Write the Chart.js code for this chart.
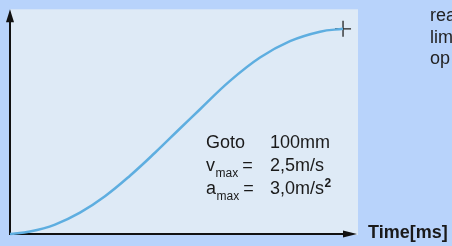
<!DOCTYPE html>
<html>
<head>
<meta charset="utf-8">
<script src="https://cdn.jsdelivr.net/npm/chart.js@4.4.1/dist/chart.umd.min.js"></script>
<style>
  html, body { margin: 0; padding: 0; background: #b8d3fb; }
  #wrap { width: 452px; height: 246px; position: relative; }
</style>
</head>
<body>
<div id="wrap"><canvas id="c" width="452" height="246"></canvas></div>
<script>
// Position curve: time [ms] vs position [mm]
const timeMs     = [0, 21.9, 49.3, 76.7, 104.1, 131.5, 158.9, 186.3, 208.3, 241.1, 274.0, 306.9, 339.8, 365];
const positionMm = [0, 1.2, 4.6, 10.4, 18.4, 28.4, 39.6, 51.4, 60.8, 74.6, 86.0, 94.0, 98.6, 100];
const xAxisTitle = 'Time[ms]';
const infoLines = [
  { label: 'Goto', sub: '', eq: '', value: '100mm', sup: '' },
  { label: 'v', sub: 'max', eq: '=', value: '2,5m/s', sup: '' },
  { label: 'a', sub: 'max', eq: '=', value: '3,0m/s', sup: '2' }
];
const sideText = ['rea', 'lim', 'op'];

const FONT = '"Liberation Sans", Arial, sans-serif';

const curve = timeMs.map((t, i) => ({ x: t, y: positionMm[i] }));
const endPoint = [{ x: timeMs[timeMs.length - 1], y: positionMm[positionMm.length - 1] }];

const decor = {
  id: 'decor',
  beforeDraw(chart) {
    const { ctx, chartArea: a } = chart;
    ctx.save();
    ctx.fillStyle = '#deeaf6';
    ctx.fillRect(a.left, a.top, a.right - a.left, a.bottom - a.top + 1);
    ctx.restore();
  },
  beforeDatasetsDraw(chart) {
    const { ctx, chartArea: a, scales } = chart;
    const x0 = scales.x.getPixelForValue(0);
    const y0 = scales.y.getPixelForValue(0);
    ctx.save();
    ctx.strokeStyle = '#111';
    ctx.fillStyle = '#111';
    ctx.lineWidth = 2;
    // y axis
    ctx.beginPath();
    ctx.moveTo(x0, y0 + 1);
    ctx.lineTo(x0, a.top + 12);
    ctx.stroke();
    ctx.beginPath();
    ctx.moveTo(x0, a.top);
    ctx.lineTo(x0 - 4, a.top + 13);
    ctx.lineTo(x0 + 4, a.top + 13);
    ctx.closePath();
    ctx.fill();
    // x axis
    const tip = a.right - 1;
    ctx.beginPath();
    ctx.moveTo(x0 - 1, y0);
    ctx.lineTo(tip - 12, y0);
    ctx.stroke();
    ctx.beginPath();
    ctx.moveTo(tip, y0);
    ctx.lineTo(tip - 14, y0 - 3.5);
    ctx.lineTo(tip - 14, y0 + 3.5);
    ctx.closePath();
    ctx.fill();
    ctx.restore();
  },
  afterDraw(chart) {
    const { ctx } = chart;
    ctx.save();
    ctx.fillStyle = '#1a1a1a';
    ctx.textBaseline = 'alphabetic';
    // x-axis title
    ctx.font = 'bold 18px ' + FONT;
    ctx.fillText(xAxisTitle, 368, 238);
    // info block
    const baselines = [148, 171, 194];
    infoLines.forEach((ln, i) => {
      const b = baselines[i];
      ctx.font = '18px ' + FONT;
      ctx.fillText(ln.label, 206, b);
      let x = 206 + ctx.measureText(ln.label).width;
      if (ln.sub) {
        ctx.font = '12px ' + FONT;
        ctx.fillText(ln.sub, x + 0.5, b + 6);
        x += ctx.measureText(ln.sub).width + 0.5;
      }
      if (ln.eq) {
        ctx.font = '18px ' + FONT;
        ctx.fillText(ln.eq, x + 4, b);
      }
      ctx.font = '18px ' + FONT;
      ctx.fillText(ln.value, 270, b);
      if (ln.sup) {
        const w = ctx.measureText(ln.value).width;
        ctx.font = 'bold 12px ' + FONT;
        ctx.fillText(ln.sup, 270 + w + 0.5, b - 7);
      }
    });
    // side text (clipped by window edge)
    ctx.font = '18px ' + FONT;
    ctx.fillStyle = '#222';
    sideText.forEach((s, i) => ctx.fillText(s, 430, 21 + i * 21.5));
    ctx.restore();
  }
};

new Chart(document.getElementById('c'), {
  type: 'scatter',
  data: {
    datasets: [
      {
        data: curve,
        showLine: true,
        borderColor: '#5eaee0',
        borderWidth: 2.5,
        pointRadius: 0,
        tension: 0.4,
        clip: false
      },
      {
        data: endPoint,
        pointStyle: 'cross',
        pointRadius: 8,
        pointBorderColor: '#222',
        pointBorderWidth: 1.3,
        clip: false
      }
    ]
  },
  options: {
    responsive: false,
    animation: false,
    devicePixelRatio: 1,
    layout: { padding: { left: 10, top: 4, right: 94, bottom: 12 } },
    plugins: { legend: { display: false }, tooltip: { enabled: false } },
    events: [],
    scales: {
      x: { type: 'linear', min: 0, max: 381.4, display: false },
      y: { type: 'linear', min: 0, max: 109.5, display: false }
    }
  },
  plugins: [decor]
});
</script>
</body>
</html>
